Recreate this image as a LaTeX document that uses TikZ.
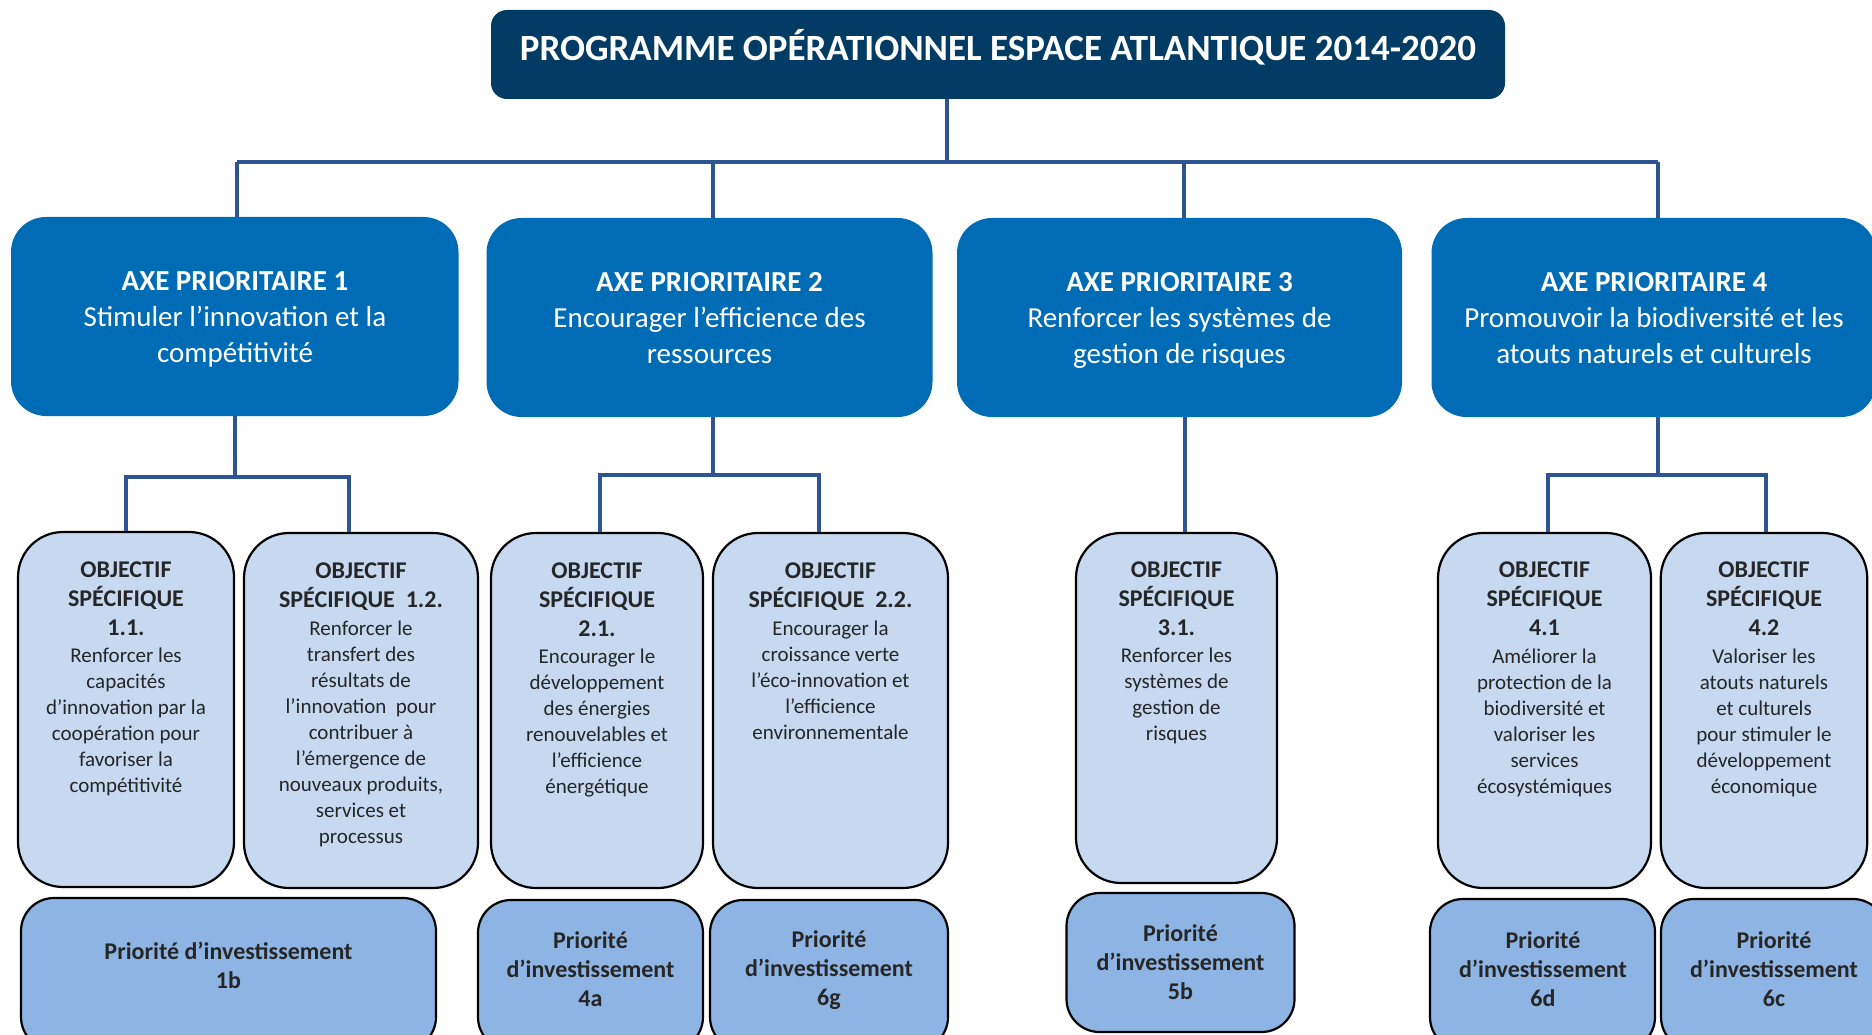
\documentclass[tikz,border=0pt]{standalone}
\usepackage{fontspec}
\setmainfont{Carlito}
\definecolor{navy}{RGB}{2,59,99}
\definecolor{axeblue}{RGB}{1,108,182}
\definecolor{objfill}{RGB}{198,217,241}
\definecolor{prifill}{RGB}{142,180,227}
\definecolor{linkblue}{RGB}{46,84,145}
\definecolor{darktext}{RGB}{38,38,38}
\begin{document}
\begin{tikzpicture}[x=1pt,y=-1pt,
  titlebox/.style={fill=navy,rounded corners=16pt,inner sep=0pt},
  axebox/.style={fill=axeblue,rounded corners=35pt,inner sep=0pt},
  objbox/.style={fill=objfill,draw=black,line width=2.2pt,rounded corners=45pt,inner sep=0pt},
  pribox/.style={fill=prifill,draw=black,line width=2.2pt,rounded corners=33pt,inner sep=0pt},
  titletext/.style={anchor=base,inner sep=0pt,text=white,font=\fontsize{37}{44}\selectfont\bfseries},
  axetext/.style={anchor=base,inner sep=0pt,text=white,align=center,font=\fontsize{29}{36}\selectfont},
  objhead/.style={anchor=base,inner sep=0pt,text=darktext,align=center,font=\fontsize{24}{29}\selectfont\bfseries},
  objbody/.style={anchor=base,inner sep=0pt,text=darktext,align=center,font=\fontsize{21}{26}\selectfont},
  pritext/.style={anchor=base,inner sep=0pt,text=darktext,align=center,font=\fontsize{24}{29}\selectfont\bfseries},
  conn/.style={draw=linkblue,line width=3.5pt}
]
\useasboundingbox (0,0) rectangle (1872,1035);
\clip (0,0) rectangle (1872,1035);
\fill[white] (0,0) rectangle (1872,1035);

% title
\node[titlebox,minimum width=1014pt,minimum height=89pt] (title) at (998,54.5) {};
\node[titletext] (titlet) at (998,61) {PROGRAMME OPÉRATIONNEL ESPACE ATLANTIQUE 2014-2020};

% axes (text nodes anchored at the baseline of their last line)
\node[axebox,minimum width=447.5pt,minimum height=199pt] (ax1) at (234.75,316.5) {};
\node[axebox,minimum width=446pt,minimum height=199pt] (ax2) at (709.5,317.5) {};
\node[axebox,minimum width=445pt,minimum height=199pt] (ax3) at (1179.5,317.5) {};
\node[axebox,minimum width=444.5pt,minimum height=199pt] (ax4) at (1653.75,317.5) {};
\node[axetext] (ax1t) at (235,362) {\textbf{AXE PRIORITAIRE 1}\\Stimuler l’innovation et la\\compétitivité};
\node[axetext] (ax2t) at (709.5,363) {\textbf{AXE PRIORITAIRE 2}\\Encourager l’efficience des\\ressources};
\node[axetext] (ax3t) at (1179.5,363) {\textbf{AXE PRIORITAIRE 3}\\Renforcer les systèmes de\\gestion de risques};
\node[axetext] (ax4t) at (1654,363) {\textbf{AXE PRIORITAIRE 4}\\Promouvoir la biodiversité et les\\atouts naturels et culturels};

% objectives
\node[objbox,minimum width=216pt,minimum height=355pt] (o11) at (126,709.5) {};
\node[objbox,minimum width=234pt,minimum height=355pt] (o12) at (361,710.5) {};
\node[objbox,minimum width=212pt,minimum height=355pt] (o21) at (597,710.5) {};
\node[objbox,minimum width=235pt,minimum height=355pt] (o22) at (830.5,710.5) {};
\node[objbox,minimum width=201pt,minimum height=350pt] (o31) at (1176.5,708) {};
\node[objbox,minimum width=213pt,minimum height=355pt] (o41) at (1544.5,710.5) {};
\node[objbox,minimum width=206.5pt,minimum height=355pt] (o42) at (1764,710.5) {};

\node[objhead] (o11h) at (126,635) {OBJECTIF\\SPÉCIFIQUE\\1.1.};
\node[objbody] (o11b) at (126,792) {Renforcer les\\capacités\\d’innovation par la\\coopération pour\\favoriser la\\compétitivité};
\node[objhead] (o12h) at (361,607) {OBJECTIF\\SPÉCIFIQUE\ \ 1.2.};
\node[objbody] (o12b) at (361,843) {Renforcer le\\transfert des\\résultats de\\l’innovation\ \ pour\\contribuer à\\l’émergence de\\nouveaux produits,\\services et\\processus};
\node[objhead] (o21h) at (597,636) {OBJECTIF\\SPÉCIFIQUE\\2.1.};
\node[objbody] (o21b) at (597,793) {Encourager le\\développement\\des énergies\\renouvelables et\\l’efficience\\énergétique};
\node[objhead] (o22h) at (830.5,607) {OBJECTIF\\SPÉCIFIQUE\ \ 2.2.};
\node[objbody] (o22b) at (830.5,739) {Encourager la\\croissance verte\\l’éco-innovation et\\l’efficience\\environnementale};
\node[objhead] (o31h) at (1176.5,635) {OBJECTIF\\SPÉCIFIQUE\\3.1.};
\node[objbody] (o31b) at (1176.5,740) {Renforcer les\\systèmes de\\gestion de\\risques};
\node[objhead] (o41h) at (1544.5,635) {OBJECTIF\\SPÉCIFIQUE\\4.1};
\node[objbody] (o41b) at (1544.5,793) {Améliorer la\\protection de la\\biodiversité et\\valoriser les\\services\\écosystémiques};
\node[objhead] (o42h) at (1764,635) {OBJECTIF\\SPÉCIFIQUE\\4.2};
\node[objbody] (o42b) at (1764,793) {Valoriser les\\atouts naturels\\et culturels\\pour stimuler le\\développement\\économique};

% priorities
\node[pribox,minimum width=415pt,minimum height=152pt] (p1b) at (228.5,974) {};
\node[pribox,minimum width=225pt,minimum height=150pt] (p4a) at (590.5,975) {};
\node[pribox,minimum width=238pt,minimum height=150pt] (p6g) at (829,975) {};
\node[pribox,minimum width=228pt,minimum height=139pt] (p5b) at (1180.5,962.5) {};
\node[pribox,minimum width=225pt,minimum height=151pt] (p6d) at (1542.5,974.5) {};
\node[pribox,minimum width=225pt,minimum height=151pt] (p6c) at (1773.5,974.5) {};
\node[pritext] (p1bt) at (228.5,988) {Priorité d’investissement\\1b};
\node[pritext] (p4at) at (590.5,1006) {Priorité\\d’investissement\\4a};
\node[pritext] (p6gt) at (829,1005) {Priorité\\d’investissement\\6g};
\node[pritext] (p5bt) at (1180.5,999) {Priorité\\d’investissement\\5b};
\node[pritext] (p6dt) at (1543,1006) {Priorité\\d’investissement\\6d};
\node[pritext] (p6ct) at (1774,1006) {Priorité\\d’investissement\\6c};

% connectors: top level
\coordinate (t0) at (947,162);
\coordinate (b1) at (237,162);
\coordinate (b2) at (713,162);
\coordinate (b3) at (1184,162);
\coordinate (b4) at (1658,162);
\draw[conn] (title.south -| t0) -- (t0);
\draw[conn] (b1) -- (b4);
\draw[conn] (b1) -- (b1 |- ax1.north);
\draw[conn] (b2) -- (b2 |- ax2.north);
\draw[conn] (b3) -- (b3 |- ax3.north);
\draw[conn] (b4) -- (b4 |- ax4.north);

% connectors: axes to objectives
\coordinate (j1) at (235,477);
\coordinate (h11) at (126,477);
\coordinate (h12) at (349,477);
\draw[conn] (ax1.south -| j1) -- (j1);
\draw[conn] (o11.north -| h11) -- (h11) -- (h12) -- (o12.north -| h12);

\coordinate (j2) at (713,475);
\coordinate (h21) at (600,475);
\coordinate (h22) at (819,475);
\draw[conn] (ax2.south -| j2) -- (j2);
\draw[conn] (o21.north -| h21) -- (h21) -- (h22) -- (o22.north -| h22);

\coordinate (j3) at (1185,475);
\draw[conn] (ax3.south -| j3) -- (o31.north -| j3);

\coordinate (j4) at (1658,475);
\coordinate (h41) at (1548,475);
\coordinate (h42) at (1766,475);
\draw[conn] (ax4.south -| j4) -- (j4);
\draw[conn] (o41.north -| h41) -- (h41) -- (h42) -- (o42.north -| h42);
\end{tikzpicture}
\end{document}
